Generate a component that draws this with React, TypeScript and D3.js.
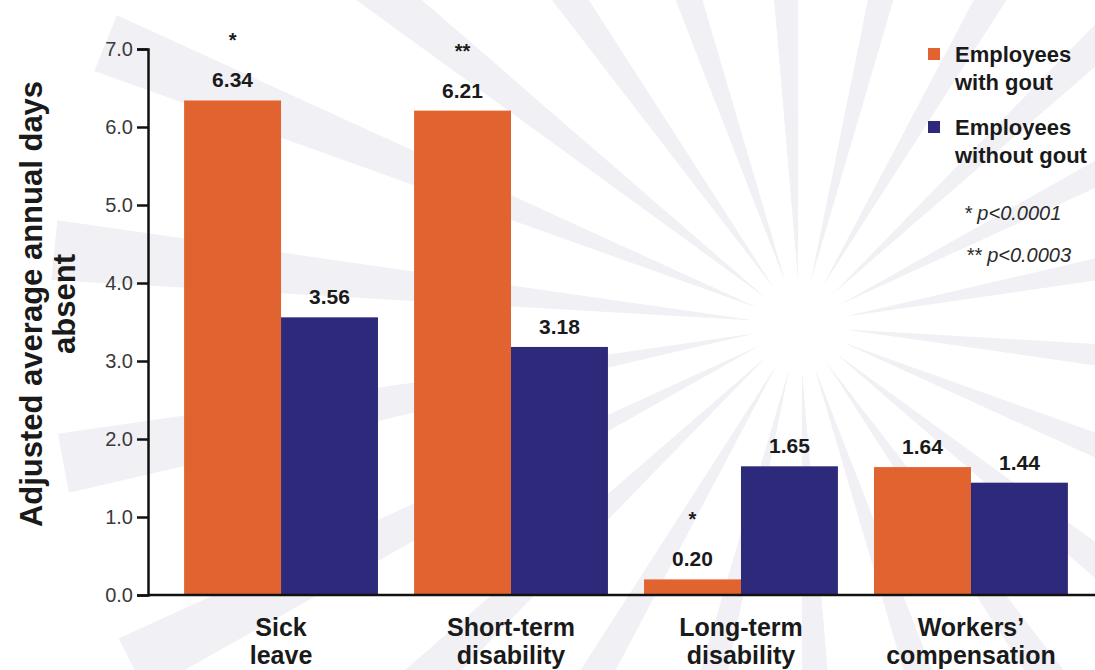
import React from "react";
import * as d3 from "d3";

const categories = [
  ["Sick", "leave"],
  ["Short-term", "disability"],
  ["Long-term", "disability"],
  ["Workers\u2019", "compensation"],
];
const withGout = [6.34, 6.21, 0.2, 1.64];
const withoutGout = [3.56, 3.18, 1.65, 1.44];
const significance = ["*", "**", "*", ""];
const yTicks = [0, 1, 2, 3, 4, 5, 6, 7];
const seriesNames = [
  ["Employees", "with gout"],
  ["Employees", "without gout"],
];
const pNotes = ["* p<0.0001", "** p<0.0003"];

const ORANGE = "#e1632f";
const NAVY = "#2e2a7b";
const FONT = "'Liberation Sans', Arial, Helvetica, sans-serif";

const App = () => {
  const svgRef = React.useRef<SVGSVGElement>(null);
  const width = 1095;
  const height = 670;

  React.useEffect(() => {
    const svg = d3.select(svgRef.current);
    svg.selectAll("*").remove();

    // faint starburst behind the chart
    const bg = svg.append("g").attr("transform", "translate(800,325)");
    const rays = d3.range(22).map((i) => (i * 2 * Math.PI) / 22 + 0.1);
    bg.selectAll("path")
      .data(rays)
      .enter()
      .append("path")
      .attr("d", (a) => {
        const r0 = 45;
        const r1 = 750;
        const w = 0.04;
        const p = (r, t) => [r * Math.cos(t), r * Math.sin(t)];
        const [ax, ay] = p(r0, a);
        const [bx, by] = p(r1, a - w);
        const [cx, cy] = p(r1, a + w);
        return `M${ax},${ay}L${bx},${by}L${cx},${cy}Z`;
      })
      .attr("fill", "#f0f0f5");

    const x0 = d3
      .scaleBand()
      .domain(categories.map((_, i) => String(i)))
      .range([148, 1104])
      .paddingInner(0.157)
      .paddingOuter(0.157);
    const x1 = d3
      .scaleBand()
      .domain(["a", "b"])
      .range([0, x0.bandwidth()]);
    const y = d3.scaleLinear().domain([0, 7]).range([595, 49]);

    const groups = svg
      .selectAll("g.group")
      .data(categories)
      .enter()
      .append("g")
      .attr("class", "group")
      .attr("transform", (_, i) => `translate(${x0(String(i))},0)`);

    groups
      .append("rect")
      .attr("x", x1("a"))
      .attr("width", x1.bandwidth())
      .attr("y", (_, i) => y(withGout[i]))
      .attr("height", (_, i) => y(0) - y(withGout[i]))
      .attr("fill", ORANGE);
    groups
      .append("rect")
      .attr("x", x1("b"))
      .attr("width", x1.bandwidth())
      .attr("y", (_, i) => y(withoutGout[i]))
      .attr("height", (_, i) => y(0) - y(withoutGout[i]))
      .attr("fill", NAVY);

    const valueText = (sel, key, vals) =>
      sel
        .append("text")
        .attr("x", x1(key) + x1.bandwidth() / 2)
        .attr("y", (_, i) => y(vals[i]) - 13)
        .attr("text-anchor", "middle")
        .style("font-family", FONT)
        .style("font-weight", "bold")
        .style("font-size", "21px")
        .attr("fill", "#1a1a1a")
        .text((_, i) => vals[i].toFixed(2));
    valueText(groups, "a", withGout);
    valueText(groups, "b", withoutGout);

    groups
      .append("text")
      .attr("x", x1("a") + x1.bandwidth() / 2)
      .attr("y", (_, i) => y(withGout[i]) - 53)
      .attr("text-anchor", "middle")
      .style("font-family", FONT)
      .style("font-weight", "bold")
      .style("font-size", "20px")
      .attr("fill", "#1a1a1a")
      .text((_, i) => significance[i]);

    // category labels
    groups
      .append("text")
      .attr("text-anchor", "middle")
      .style("font-family", FONT)
      .style("font-weight", "bold")
      .style("font-size", "25px")
      .attr("fill", "#1a1a1a")
      .selectAll("tspan")
      .data((d) => d)
      .enter()
      .append("tspan")
      .attr("x", x0.bandwidth() / 2)
      .attr("y", (_, j) => 636 + j * 28)
      .text((d) => d);

    // y axis
    const yAxis = svg
      .append("g")
      .attr("transform", "translate(148,0)")
      .call(
        d3
          .axisLeft(y)
          .tickValues(yTicks)
          .tickFormat(d3.format(".1f"))
          .tickSize(11)
          .tickPadding(4)
      );
    yAxis.select(".domain").attr("stroke", "#111").attr("stroke-width", 2.5);
    yAxis.selectAll(".tick line").attr("stroke", "#111").attr("stroke-width", 2.5);
    yAxis
      .selectAll(".tick text")
      .style("font-family", FONT)
      .style("font-size", "20px")
      .attr("fill", "#3a3a3a");

    // baseline
    svg
      .append("line")
      .attr("x1", 148)
      .attr("x2", width)
      .attr("y1", y(0))
      .attr("y2", y(0))
      .attr("stroke", "#111")
      .attr("stroke-width", 2.5);

    // y title
    svg
      .append("text")
      .attr("transform", "translate(0,304) rotate(-90)")
      .attr("text-anchor", "middle")
      .style("font-family", FONT)
      .style("font-weight", "bold")
      .style("font-size", "31px")
      .attr("fill", "#1a1a1a")
      .selectAll("tspan")
      .data(["Adjusted average annual days", "absent"])
      .enter()
      .append("tspan")
      .attr("x", 0)
      .attr("y", (_, j) => 42 + j * 33)
      .text((d) => d);

    // legend
    const legend = svg.append("g").attr("transform", "translate(928,0)");
    const colors = [ORANGE, NAVY];
    seriesNames.forEach((lines, k) => {
      const top = 62 + k * 73;
      legend
        .append("rect")
        .attr("x", 0)
        .attr("y", top - 14)
        .attr("width", 12)
        .attr("height", 12)
        .attr("fill", colors[k]);
      legend
        .append("text")
        .style("font-family", FONT)
        .style("font-weight", "bold")
        .style("font-size", "22px")
        .attr("fill", "#1a1a1a")
        .selectAll("tspan")
        .data(lines)
        .enter()
        .append("tspan")
        .attr("x", 27)
        .attr("y", (_, j) => top + j * 28)
        .text((d) => d);
    });
    pNotes.forEach((note, k) => {
      const [stars, rest] = note.split(" ");
      const t = legend
        .append("text")
        .attr("x", 36 + k * 2)
        .attr("y", 220 + k * 42)
        .style("font-family", FONT)
        .style("font-style", "italic")
        .style("font-size", "20px")
        .attr("fill", "#2a2a2a");
      t.append("tspan").text(stars + " ");
      t.append("tspan").text(rest);
    });
  }, []);

  return (
    <svg
      ref={svgRef}
      width={width}
      height={height}
      style={{ position: "absolute", left: 0, top: 0, background: "#fff" }}
    />
  );
};

export default App;
